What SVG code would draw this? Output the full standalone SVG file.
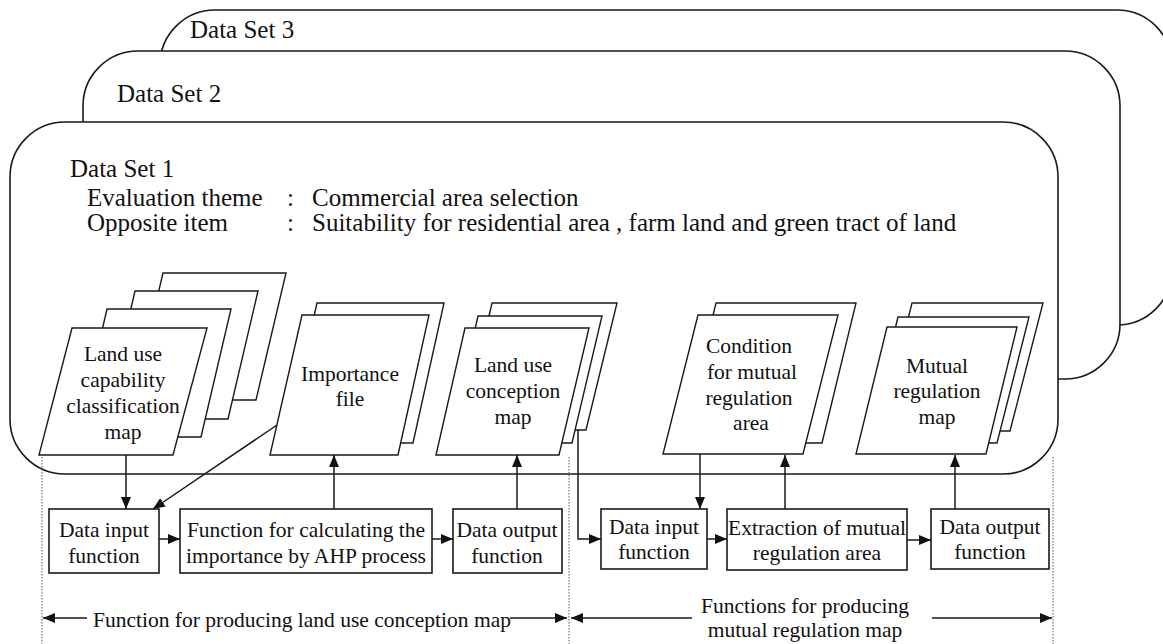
<svg xmlns="http://www.w3.org/2000/svg" width="1163" height="644" viewBox="0 0 1163 644" font-family="'Liberation Serif', 'Times New Roman', serif">
  <style>
    .panel { fill: #fff; stroke: #1a1a1a; stroke-width: 1.6; }
    .sheet { fill: #fff; stroke: #1a1a1a; stroke-width: 1.4; stroke-linejoin: miter; }
    .box { fill: #fff; stroke: #1a1a1a; stroke-width: 1.6; }
    .wire { fill: none; stroke: #1a1a1a; stroke-width: 1.5; }
    .guide { fill: none; stroke: #555; stroke-width: 1; stroke-dasharray: 1.5 1.5; }
    text { font-family: "Liberation Serif", "Times New Roman", serif; fill: #111; }
    .big { font-size: 25px; }
    .lbl { font-size: 21.5px; text-anchor: middle; }
    .lbl-start { font-size: 21.5px; }
  </style>
  <defs>
    <marker id="arrow" viewBox="0 0 12 10" refX="12" refY="5" markerWidth="12" markerHeight="10" markerUnits="userSpaceOnUse" orient="auto">
      <path d="M0,0 L12,5 L0,10 z" fill="#111"/>
    </marker>
  </defs>

  <!-- stacked data-set panels, back to front -->
  <g id="dataset3">
    <rect class="panel" x="160" y="10" width="1012" height="315" rx="55" ry="55"/>
    <text class="big" x="190" y="38">Data Set 3</text>
  </g>
  <g id="dataset2">
    <rect class="panel" x="83" y="51" width="1037" height="328" rx="55" ry="55"/>
    <text class="big" x="117" y="102">Data Set 2</text>
  </g>
  <g id="dataset1">
    <rect class="panel" x="10" y="122" width="1048" height="352" rx="55" ry="55"/>
    <text class="big" x="70" y="177">Data Set 1</text>
    <text class="big" x="87" y="206">Evaluation theme</text>
    <text class="big" x="287" y="206">:</text>
    <text class="big" x="312" y="206">Commercial area selection</text>
    <text class="big" x="87" y="231">Opposite item</text>
    <text class="big" x="287" y="231">:</text>
    <text class="big" x="312" y="231">Suitability for residential area , farm land and green tract of land</text>
  </g>

  <!-- section guides -->
  <g id="guides">
    <line class="guide" x1="42" y1="457" x2="42" y2="644"/>
    <line class="guide" x1="569" y1="457" x2="569" y2="644"/>
    <line class="guide" x1="1053" y1="457" x2="1053" y2="644"/>
  </g>

  <!-- data files -->
  <g id="capability-map">
    <polygon class="sheet" points="163,273 286,273 256,400 133,400"/>
    <polygon class="sheet" points="135,291 258,291 228,419 105,419"/>
    <polygon class="sheet" points="107,309 231,309 201,437 77,437"/>
    <polygon class="sheet" points="72,328 207,328 173,455 39,455"/>
    <text class="lbl" x="123" y="361">Land use</text>
    <text class="lbl" x="123" y="387">capability</text>
    <text class="lbl" x="123" y="413">classification</text>
    <text class="lbl" x="123" y="439">map</text>
  </g>
  <g id="importance-file">
    <polygon class="sheet" points="317,303 444,303 413,443 285,443"/>
    <polygon class="sheet" points="302,315 429,315 398,455 270,455"/>
    <text class="lbl" x="350" y="381">Importance</text>
    <text class="lbl" x="350" y="406">file</text>
  </g>
  <g id="conception-map">
    <polygon class="sheet" points="492,303 617,303 586,430 463,430"/>
    <polygon class="sheet" points="478,316 602,316 572,443 449,443"/>
    <polygon class="sheet" points="465,328 589,328 559,455 436,455"/>
    <text class="lbl" x="513" y="372">Land use</text>
    <text class="lbl" x="513" y="398">conception</text>
    <text class="lbl" x="513" y="424">map</text>
  </g>
  <g id="regulation-condition">
    <polygon class="sheet" points="716,303 856,303 822,443 682,443"/>
    <polygon class="sheet" points="698,315 838,315 803,454 663,454"/>
    <text class="lbl" x="749" y="353">Condition</text>
    <text class="lbl" x="752" y="379">for mutual</text>
    <text class="lbl" x="749" y="405">regulation</text>
    <text class="lbl" x="751" y="430">area</text>
  </g>
  <g id="regulation-map">
    <polygon class="sheet" points="912,303 1043,303 1010,431 880,431"/>
    <polygon class="sheet" points="898,317 1029,317 997,443 867,443"/>
    <polygon class="sheet" points="887,327 1017,327 986,454 856,454"/>
    <text class="lbl" x="937" y="373">Mutual</text>
    <text class="lbl" x="937" y="398">regulation</text>
    <text class="lbl" x="937" y="424">map</text>
  </g>

  <!-- processing functions -->
  <g id="input-1">
    <rect class="box" x="49" y="509" width="110" height="64"/>
    <text class="lbl" x="104" y="537">Data input</text>
    <text class="lbl" x="104" y="563">function</text>
  </g>
  <g id="ahp">
    <rect class="box" x="180" y="509" width="252" height="64"/>
    <text class="lbl" x="306" y="537">Function for calculating the</text>
    <text class="lbl" x="306" y="563">importance by AHP process</text>
  </g>
  <g id="output-1">
    <rect class="box" x="453" y="509" width="109" height="64"/>
    <text class="lbl" x="507" y="537">Data output</text>
    <text class="lbl" x="507" y="563">function</text>
  </g>
  <g id="input-2">
    <rect class="box" x="601" y="509" width="106" height="60"/>
    <text class="lbl" x="654" y="534">Data input</text>
    <text class="lbl" x="654" y="559">function</text>
  </g>
  <g id="extraction">
    <rect class="box" x="727" y="509" width="180" height="61"/>
    <text class="lbl" x="817" y="535">Extraction of mutual</text>
    <text class="lbl" x="817" y="560">regulation area</text>
  </g>
  <g id="output-2">
    <rect class="box" x="931" y="509" width="118" height="60"/>
    <text class="lbl" x="990" y="534">Data output</text>
    <text class="lbl" x="990" y="559">function</text>
  </g>

  <!-- flows -->
  <g id="connectors">
    <line class="wire" x1="126" y1="455" x2="126" y2="509" marker-end="url(#arrow)"/>
    <line class="wire" x1="277" y1="425" x2="153" y2="509" marker-end="url(#arrow)"/>
    <line class="wire" x1="159" y1="539" x2="180" y2="539" marker-end="url(#arrow)"/>
    <line class="wire" x1="334" y1="509" x2="334" y2="455" marker-end="url(#arrow)"/>
    <line class="wire" x1="432" y1="539" x2="453" y2="539" marker-end="url(#arrow)"/>
    <line class="wire" x1="517" y1="509" x2="517" y2="455" marker-end="url(#arrow)"/>
    <polyline class="wire" points="578,430 578,539 601,539" marker-end="url(#arrow)"/>
    <line class="wire" x1="700" y1="454" x2="700" y2="509" marker-end="url(#arrow)"/>
    <line class="wire" x1="707" y1="539" x2="727" y2="539" marker-end="url(#arrow)"/>
    <line class="wire" x1="785" y1="509" x2="785" y2="455" marker-end="url(#arrow)"/>
    <line class="wire" x1="907" y1="540" x2="931" y2="540" marker-end="url(#arrow)"/>
    <line class="wire" x1="955" y1="509" x2="955" y2="455" marker-end="url(#arrow)"/>
  </g>

  <!-- span annotations -->
  <g id="span-conception">
    <line class="wire" x1="87" y1="618" x2="43" y2="618" marker-end="url(#arrow)"/>
    <line class="wire" x1="510" y1="618" x2="567" y2="618" marker-end="url(#arrow)"/>
    <text class="lbl-start" x="93" y="627">Function for producing land use conception map</text>
  </g>
  <g id="span-regulation">
    <line class="wire" x1="692" y1="618" x2="571" y2="618" marker-end="url(#arrow)"/>
    <line class="wire" x1="932" y1="618" x2="1052" y2="618" marker-end="url(#arrow)"/>
    <text class="lbl" x="805" y="613">Functions for producing</text>
    <text class="lbl" x="805" y="637">mutual regulation map</text>
  </g>
</svg>
